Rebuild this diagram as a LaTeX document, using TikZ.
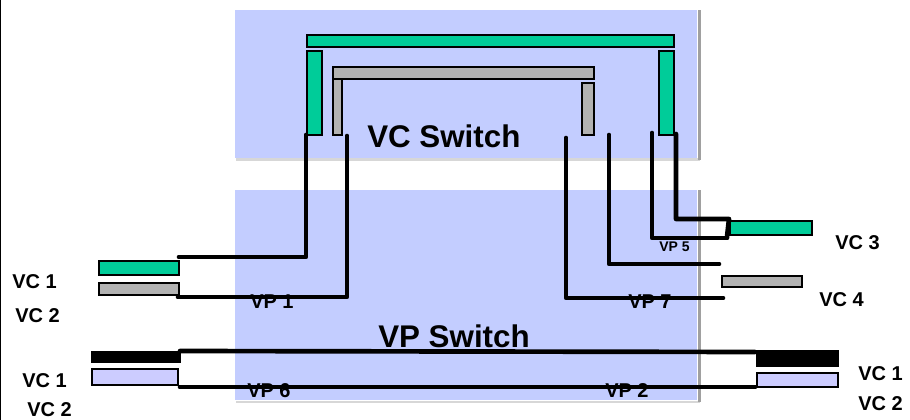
\documentclass[tikz,border=0pt]{standalone}
\usepackage{fontspec}
\setmainfont{Liberation Sans}
\definecolor{swbg}{RGB}{195,205,255}
\definecolor{vcgreen}{RGB}{0,204,153}
\definecolor{vcgray}{RGB}{178,178,178}
\definecolor{vclav}{RGB}{204,204,255}
\definecolor{shadowdk}{RGB}{160,160,160}
\definecolor{shadowlt}{RGB}{215,215,215}
\begin{document}
\begin{tikzpicture}[x=0.75pt,y=-0.75pt,
  panel/.style={fill=swbg,draw=none},
  greenbox/.style={fill=vcgreen,draw=black,line width=1.2pt},
  graybox/.style={fill=vcgray,draw=black,line width=1.2pt},
  lavbox/.style={fill=vclav,draw=black,line width=1.2pt},
  blackbox/.style={fill=black,draw=black,line width=1.2pt},
  vp/.style={draw=black,line width=3.5pt,line cap=round,line join=round},
  lbl/.style={font=\bfseries\fontsize{15}{15}\selectfont,anchor=base west,inner sep=0pt},
  small/.style={font=\bfseries\fontsize{10.5}{10.5}\selectfont,anchor=base west,inner sep=0pt},
  big/.style={font=\bfseries\fontsize{23.5}{23.5}\selectfont,anchor=base west,inner sep=0pt}]
\useasboundingbox (0,0) rectangle (910,420);
% frame line on the left
\draw[line width=1.1pt] (0.6,0) -- (0.6,420);
% switch panels with shadows
\fill[shadowlt] (236,158.5) rectangle (700,161);
\fill[shadowdk] (698,10) rectangle (700.5,160);
\path[panel] (235,10) rectangle (697,158);
\fill[shadowlt] (236,400.5) rectangle (700,403);
\fill[shadowdk] (698,190) rectangle (700.5,402);
\path[panel] (235,190) rectangle (697,400);
% VC switch internal connections
\path[greenbox] (307,35) rectangle (674,47);
\path[greenbox] (307,51) rectangle (322,135);
\path[greenbox] (659,51) rectangle (674,135);
\path[graybox] (333,67) rectangle (594,79);
\path[graybox] (333,79) rectangle (342,135);
\path[graybox] (582,83) rectangle (594,135);
% endpoint boxes
\path[greenbox] (99,261) rectangle (179,275);
\path[graybox] (99,283) rectangle (179,295);
\path[greenbox] (730,221) rectangle (812,235);
\path[graybox] (722,276) rectangle (802,287);
\path[blackbox] (92,352) rectangle (180,362);
\path[lavbox] (92,369) rectangle (178,385);
\path[blackbox] (757,351) rectangle (838,366);
\path[lavbox] (757,373) rectangle (838,387);
% labels
\node[big] (vcsw) at (367,148) {VC Switch};
\node[big] (vpsw) at (378,347) {VP Switch};
\node[lbl] (lvc1a) at (12,289) {VC 1};
\node[lbl] (lvc2a) at (15,322) {VC 2};
\node[lbl] (lvc1b) at (22,387) {VC 1};
\node[lbl] (lvc2b) at (27,416.5) {VC 2};
\node[lbl] (rvc3) at (835,250) {VC 3};
\node[lbl] (rvc4) at (819,306) {VC 4};
\node[lbl] (rvc1) at (858,380) {VC 1};
\node[lbl] (rvc2) at (858,410) {VC 2};
\node[lbl] (vp1) at (250,309) {VP 1};
\node[lbl] (vp7) at (628,309) {VP 7};
\node[lbl] (vp6) at (247,397) {VP 6};
\node[lbl] (vp2) at (605,397) {VP 2};
\node[small] (vp5) at (659,252) {VP 5};
% virtual paths
\draw[vp] (306,135) -- (306,257) -- (179,257);
\draw[vp] (347,136) -- (347,297) -- (178,297);
\draw[vp] (566,138) -- (566,298) -- (723,298);
\draw[vp] (609,135) -- (609,264) -- (719,264);
\draw[vp] (652,133) -- (652,238) -- (727,238);
\draw[vp] (676,134) -- (676,219) -- (729,219) -- (727,237);
\draw[vp] (180,351) -- (755,352);
\draw[vp] (180,387) -- (755,387);
\end{tikzpicture}
\end{document}
